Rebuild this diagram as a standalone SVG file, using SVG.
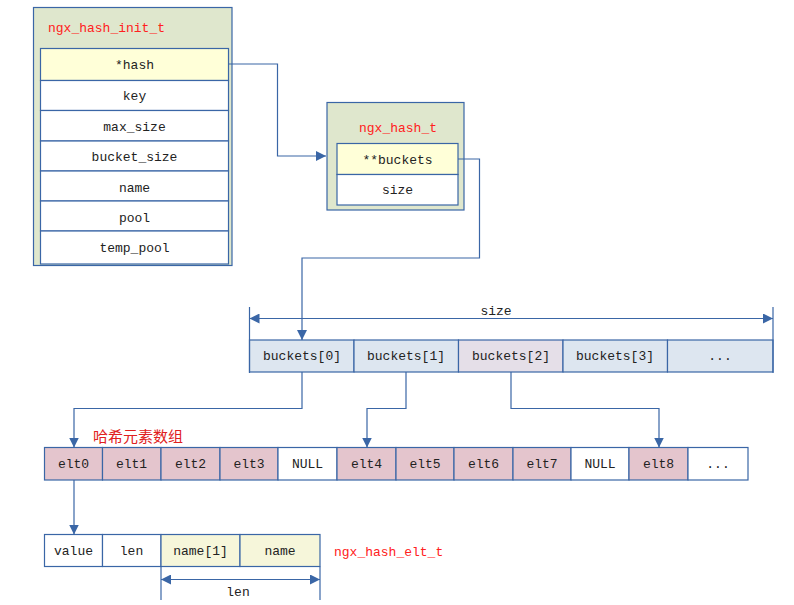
<svg xmlns="http://www.w3.org/2000/svg" width="794" height="605" viewBox="0 0 794 605">
<defs>
<marker id="ah" viewBox="0 0 10 10" refX="10" refY="5" markerWidth="10" markerHeight="10" markerUnits="userSpaceOnUse" orient="auto-start-reverse">
<path d="M0,0 L10,5 L0,10 Z" fill="#3a66a6"/>
</marker>
</defs>
<style>
rect{stroke:#3a66a6;stroke-width:1.2}
.outer{fill:#dfe7cd}
.y{fill:#ffffd8}
.w{fill:#ffffff}
.b{fill:#dde6f0}
.p{fill:#e5dfe8}
.e{fill:#e4c5cd}
.n{fill:#f6f6da}
text{font-family:"Liberation Mono","Noto Sans CJK SC",monospace;font-size:13px;fill:#222;text-anchor:middle}
.red{fill:#ff2020;text-anchor:start}
.cn{font-family:"Noto Sans CJK SC",sans-serif;font-size:15px;fill:#e02020;text-anchor:start}
.c{fill:none;stroke:#3a66a6;stroke-width:1.2}
</style>
<rect width="794" height="605" fill="#fff" style="stroke:none"/>

<g id="ngx_hash_init_t">
<rect class="outer" x="33.5" y="7.5" width="198.5" height="258"/>
<text class="red" x="48" y="32">ngx_hash_init_t</text>
<rect class="y" x="40.5" y="48.5" width="188" height="32"/>
<text x="134.5" y="69">*hash</text>
<rect class="w" x="40.5" y="80.5" width="188" height="30"/>
<text x="134.5" y="100">key</text>
<rect class="w" x="40.5" y="110.5" width="188" height="30.5"/>
<text x="134.5" y="131">max_size</text>
<rect class="w" x="40.5" y="141" width="188" height="30"/>
<text x="134.5" y="161">bucket_size</text>
<rect class="w" x="40.5" y="171" width="188" height="30"/>
<text x="134.5" y="192">name</text>
<rect class="w" x="40.5" y="201" width="188" height="30"/>
<text x="134.5" y="222">pool</text>
<rect class="w" x="40.5" y="231" width="188" height="33"/>
<text x="134.5" y="252">temp_pool</text>
</g>

<g id="ngx_hash_t">
<rect class="outer" x="327" y="102.5" width="137" height="107.5"/>
<text class="red" x="359" y="132">ngx_hash_t</text>
<rect class="y" x="337" y="143.5" width="121" height="31"/>
<text x="397.5" y="164">**buckets</text>
<rect class="w" x="337" y="174.5" width="121" height="30.5"/>
<text x="397.5" y="194">size</text>
</g>

<g id="buckets">
<rect class="b" x="249.5" y="340" width="104.5" height="32"/>
<text x="302" y="360">buckets[0]</text>
<rect class="b" x="354" y="340" width="104.5" height="32"/>
<text x="406" y="360">buckets[1]</text>
<rect class="p" x="458.5" y="340" width="104.5" height="32"/>
<text x="511" y="360">buckets[2]</text>
<rect class="b" x="563" y="340" width="104.5" height="32"/>
<text x="615" y="360">buckets[3]</text>
<rect class="b" x="667.5" y="340" width="105.5" height="32"/>
<text x="720" y="360">...</text>
<text x="496" y="315">size</text>
</g>

<g id="elements">
<text class="cn" x="93" y="442">哈希元素数组</text>
<rect class="e" x="44.5" y="447.5" width="58" height="32.5"/>
<text x="73.5" y="468">elt0</text>
<rect class="e" x="102.5" y="447.5" width="58.5" height="32.5"/>
<text x="131.5" y="468">elt1</text>
<rect class="e" x="161" y="447.5" width="59" height="32.5"/>
<text x="190.5" y="468">elt2</text>
<rect class="e" x="220" y="447.5" width="58" height="32.5"/>
<text x="249" y="468">elt3</text>
<rect class="w" x="278" y="447.5" width="59" height="32.5"/>
<text x="307.5" y="468">NULL</text>
<rect class="e" x="337" y="447.5" width="59" height="32.5"/>
<text x="366.5" y="468">elt4</text>
<rect class="e" x="396" y="447.5" width="58" height="32.5"/>
<text x="425" y="468">elt5</text>
<rect class="e" x="454" y="447.5" width="59" height="32.5"/>
<text x="483.5" y="468">elt6</text>
<rect class="e" x="513" y="447.5" width="58" height="32.5"/>
<text x="542" y="468">elt7</text>
<rect class="w" x="571" y="447.5" width="58" height="32.5"/>
<text x="600" y="468">NULL</text>
<rect class="e" x="629" y="447.5" width="59" height="32.5"/>
<text x="658.5" y="468">elt8</text>
<rect class="w" x="688" y="447.5" width="60" height="32.5"/>
<text x="718" y="468">...</text>
</g>

<g id="ngx_hash_elt_t">
<rect class="w" x="44.5" y="534.5" width="58" height="32"/>
<text x="73.5" y="555">value</text>
<rect class="w" x="102.5" y="534.5" width="58.5" height="32"/>
<text x="131.5" y="555">len</text>
<rect class="n" x="161" y="534.5" width="79" height="32"/>
<text x="200.5" y="555">name[1]</text>
<rect class="n" x="240" y="534.5" width="80" height="32"/>
<text x="280" y="555">name</text>
<text class="red" x="334" y="556">ngx_hash_elt_t</text>
<text x="238" y="596">len</text>
</g>

<g id="connectors">
<path class="c" d="M228.5,64 H277.5 V156 H326" marker-end="url(#ah)"/>
<path class="c" d="M458,159 H479.5 V258 H302 V340" marker-end="url(#ah)"/>
<path class="c" d="M249.5,307 V373"/>
<path class="c" d="M773,307 V373"/>
<path class="c" d="M249.5,318.5 H773" marker-start="url(#ah)" marker-end="url(#ah)"/>
<path class="c" d="M302,372 V408.5 H74 V447.5" marker-end="url(#ah)"/>
<path class="c" d="M406,372 V408.5 H367 V447.5" marker-end="url(#ah)"/>
<path class="c" d="M511,372 V408.5 H659 V447.5" marker-end="url(#ah)"/>
<path class="c" d="M74,480 V534.5" marker-end="url(#ah)"/>
<path class="c" d="M161,566.5 V600"/>
<path class="c" d="M320,566.5 V600"/>
<path class="c" d="M161,579.5 H320" marker-start="url(#ah)" marker-end="url(#ah)"/>
</g>
</svg>
